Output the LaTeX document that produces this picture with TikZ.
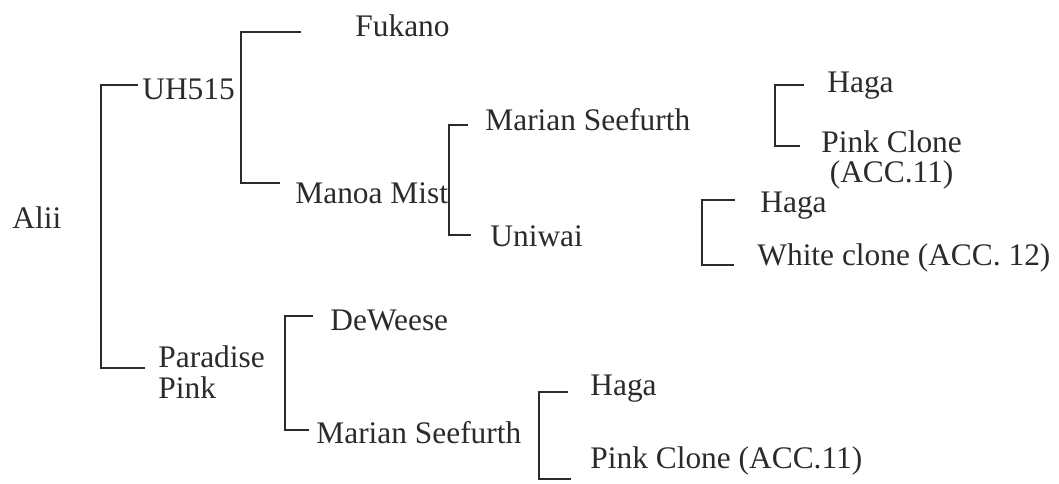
\documentclass[tikz,border=0pt]{standalone}
\usepackage{fontspec}
\setmainfont{Liberation Serif}
\usepackage{tikz}
\usepackage{xcolor}
\definecolor{ink}{HTML}{2B2B2B}

\begin{document}
\begin{tikzpicture}
[
x=0.5pt, y=-0.5pt,
name-a/.style={ink, inner sep=0pt, anchor=base west, font=\fontsize{15.7}{15.3}\selectfont},
name-b/.style={name-a, anchor=west},
line-a/.style={ink, line width=1.45pt, line cap=rect}
]
\useasboundingbox (0,0) rectangle (1059,483);
% cultivars
\node (alii)     [name-a] at ( 12,228) {Alii};
\node (uh515)    [name-a] at (142, 99) {UH515};
\node (fukano)   [name-a] at (355, 36) {Fukano};
\node (manoa)    [name-a] at (295,203) {Manoa Mist};
\node (marian-1) [name-a] at (485,130) {Marian Seefurth};
\node (uniwai)   [name-a] at (490,246) {Uniwai};
\node (haga-1)   [name-a] at (827, 92) {Haga};
\node (pink-1)   [name-b, align=center] at (821,160) {Pink Clone\\(ACC.11)};
\node (haga-2)   [name-a] at (760,212) {Haga};
\node (white)    [name-a] at (757,265) {White clone (ACC. 12)};
\node (paradise) [name-b, align=left] at (158,372) {Paradise\\Pink};
\node (deweese)  [name-a] at (330,330) {DeWeese};
\node (marian-2) [name-a] at (316,443) {Marian Seefurth};
\node (haga-3)   [name-a] at (590,395) {Haga};
\node (pink-2)   [name-a] at (590,468) {Pink Clone (ACC.11)};
% stub ends
\coordinate (uh515-in)    at ([xshift=-2.5pt]uh515.west |- 0,85);
\coordinate (paradise-in) at ([xshift=-7pt]paradise.west |- 0,368);
\coordinate (fukano-in)   at ([xshift=-27.5pt]fukano.west |- 0,32);
\coordinate (manoa-in)    at ([xshift=-8pt]manoa.west |- 0,183);
\coordinate (marian-1-in) at ([xshift=-9pt]marian-1.west |- 0,125);
\coordinate (uniwai-in)   at ([xshift=-10pt]uniwai.west |- 0,235);
\coordinate (haga-1-in)   at ([xshift=-12pt]haga-1.west |- 0,85);
\coordinate (pink-1-in)   at ([xshift=-11pt]pink-1.west |- 0,146);
\coordinate (haga-2-in)   at ([xshift=-13pt]haga-2.west |- 0,200);
\coordinate (white-in)    at ([xshift=-12pt]white.west |- 0,265);
\coordinate (deweese-in)  at ([xshift=-9pt]deweese.west |- 0,316);
\coordinate (marian-2-in) at ([xshift=-4pt]marian-2.west |- 0,430);
\coordinate (haga-3-in)   at ([xshift=-11.5pt]haga-3.west |- 0,392);
\coordinate (pink-2-in)   at ([xshift=-10pt]pink-2.west |- 0,479);
% brackets
\draw [line-a] (uh515-in)    -- ++(-36,0) |- (paradise-in);
\draw [line-a] (fukano-in)   -- ++(-59,0) |- (manoa-in);
\draw [line-a] (marian-1-in) -- ++(-18,0) |- (uniwai-in);
\draw [line-a] (haga-1-in)   -- ++(-28,0) |- (pink-1-in);
\draw [line-a] (haga-2-in)   -- ++(-32,0) |- (white-in);
\draw [line-a] (deweese-in)  -- ++(-27,0) |- (marian-2-in);
\draw [line-a] (haga-3-in)   -- ++(-28,0) |- (pink-2-in);
\end{tikzpicture}
\end{document}
